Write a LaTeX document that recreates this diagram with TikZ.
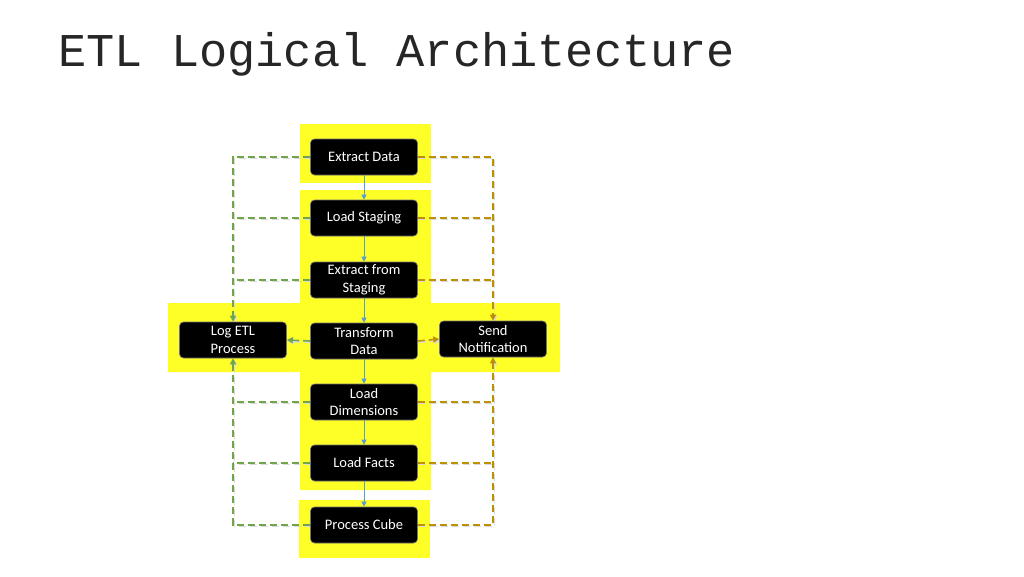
\documentclass[tikz,border=0pt]{standalone}
\usepackage{fontspec}
\setmainfont{Carlito}
\newfontfamily\titlefont{Liberation Mono}
\usetikzlibrary{arrows.meta}
\definecolor{hl}{RGB}{255,255,40}
\definecolor{gline}{RGB}{112,165,75}
\definecolor{oline}{RGB}{191,144,0}
\definecolor{bline}{RGB}{91,155,213}
\begin{document}
\begin{tikzpicture}[x=1pt,y=-1pt,
  box/.style={fill=black, draw=black!55, line width=0.6pt, rounded corners=4pt,
    minimum width=107pt, minimum height=36pt, text=white, align=center,
    font=\fontsize{14.5}{17.5}\selectfont, inner sep=1pt},
  ghost/.style={box, draw=none, fill=none, text opacity=0},
  flow/.style={draw=bline, line width=1pt, -{Triangle[length=5pt,width=5pt]}},
  shad/.style={preaction={draw=black!15, line width=1.6pt, dash pattern=on 7pt off 4pt,
    transform canvas={shift={(1.3pt,-1.3pt)}}}},
  gdash/.style={draw=gline, line width=1.6pt, dash pattern=on 7pt off 4pt, shad},
  odash/.style={draw=oline, line width=1.6pt, dash pattern=on 7pt off 4pt, shad},
  tip/.style={-{Triangle[length=6pt,width=6pt]}}
]
\useasboundingbox (0,0) rectangle (1024,576);
\node[anchor=base west, font=\titlefont\fontsize{47}{50}\selectfont, text=black!85, inner sep=0pt] (title) at (58,66) {ETL Logical Architecture};

% yellow highlights
\fill[hl] (300,124) rectangle (431,183);
\fill[hl] (300,190) -- (431,190) -- (431,303) -- (560,303) -- (560,372) -- (431,372)
  -- (431,490) -- (300,490) -- (300,372) -- (168,372) -- (168,303) -- (300,303) -- cycle;
\fill[hl] (299,500) rectangle (430,558);

% node positions
\coordinate (pex) at (364,157);
\coordinate (pls) at (364,218);
\coordinate (pes) at (364,280);
\coordinate (ptd) at (364,341);
\coordinate (pld) at (364,402);
\coordinate (plf) at (364,463);
\coordinate (ppc) at (364,525);

% invisible placeholders for routing (same sizes as boxes)
\path (pex) node[ghost] (ex) {Extract Data};
\path (pls) node[ghost] (ls) {Load Staging};
\path (pes) node[ghost] (es) {Extract from\\Staging};
\path (ptd) node[ghost] (td) {Transform\\Data};
\path (pld) node[ghost] (ld) {Load\\Dimensions};
\path (plf) node[ghost] (lf) {Load Facts};
\path (ppc) node[ghost] (pc) {Process Cube};
\path (233,340) node[ghost] (log) {Log ETL\\Process};
\path (493,339) node[ghost] (sn) {Send\\Notification};

% green dashed (logging)
\draw[gdash, tip] (ex.west) -| (log.north);
\draw[gdash] (ls.west) -- (ls.west -| log.north);
\draw[gdash] (es.west) -- (es.west -| log.north);
\draw[gdash, tip] (td.west) -- (log.east);
\draw[gdash] (ld.west) -- (ld.west -| log.south);
\draw[gdash] (lf.west) -- (lf.west -| log.south);
\draw[gdash, tip] (pc.west) -| (log.south);

% orange dashed (notification)
\draw[odash, tip] (ex.east) -| (sn.north);
\draw[odash] (ls.east) -- (ls.east -| sn.north);
\draw[odash] (es.east) -- (es.east -| sn.north);
\draw[odash, tip] (td.east) -- (sn.west);
\draw[odash] (ld.east) -- (ld.east -| sn.south);
\draw[odash] (lf.east) -- (lf.east -| sn.south);
\draw[odash, tip] (pc.east) -| (sn.south);

% visible boxes
\node[box] (bex) at (pex) {Extract Data};
\node[box] (bls) at (pls) {Load Staging};
\node[box] (bes) at (pes) {Extract from\\Staging};
\node[box] (btd) at (ptd) {Transform\\Data};
\node[box] (bld) at (pld) {Load\\Dimensions};
\node[box] (blf) at (plf) {Load Facts};
\node[box] (bpc) at (ppc) {Process Cube};
\node[box] (blog) at (log.center) {Log ETL\\Process};
\node[box] (bsn) at (sn.center) {Send\\Notification};

% blue flow
\draw[flow] (bex) -- (bls);
\draw[flow] (bls) -- (bes);
\draw[flow] (bes) -- (btd);
\draw[flow] (btd) -- (bld);
\draw[flow] (bld) -- (blf);
\draw[flow] (blf) -- (bpc);
\end{tikzpicture}
\end{document}
